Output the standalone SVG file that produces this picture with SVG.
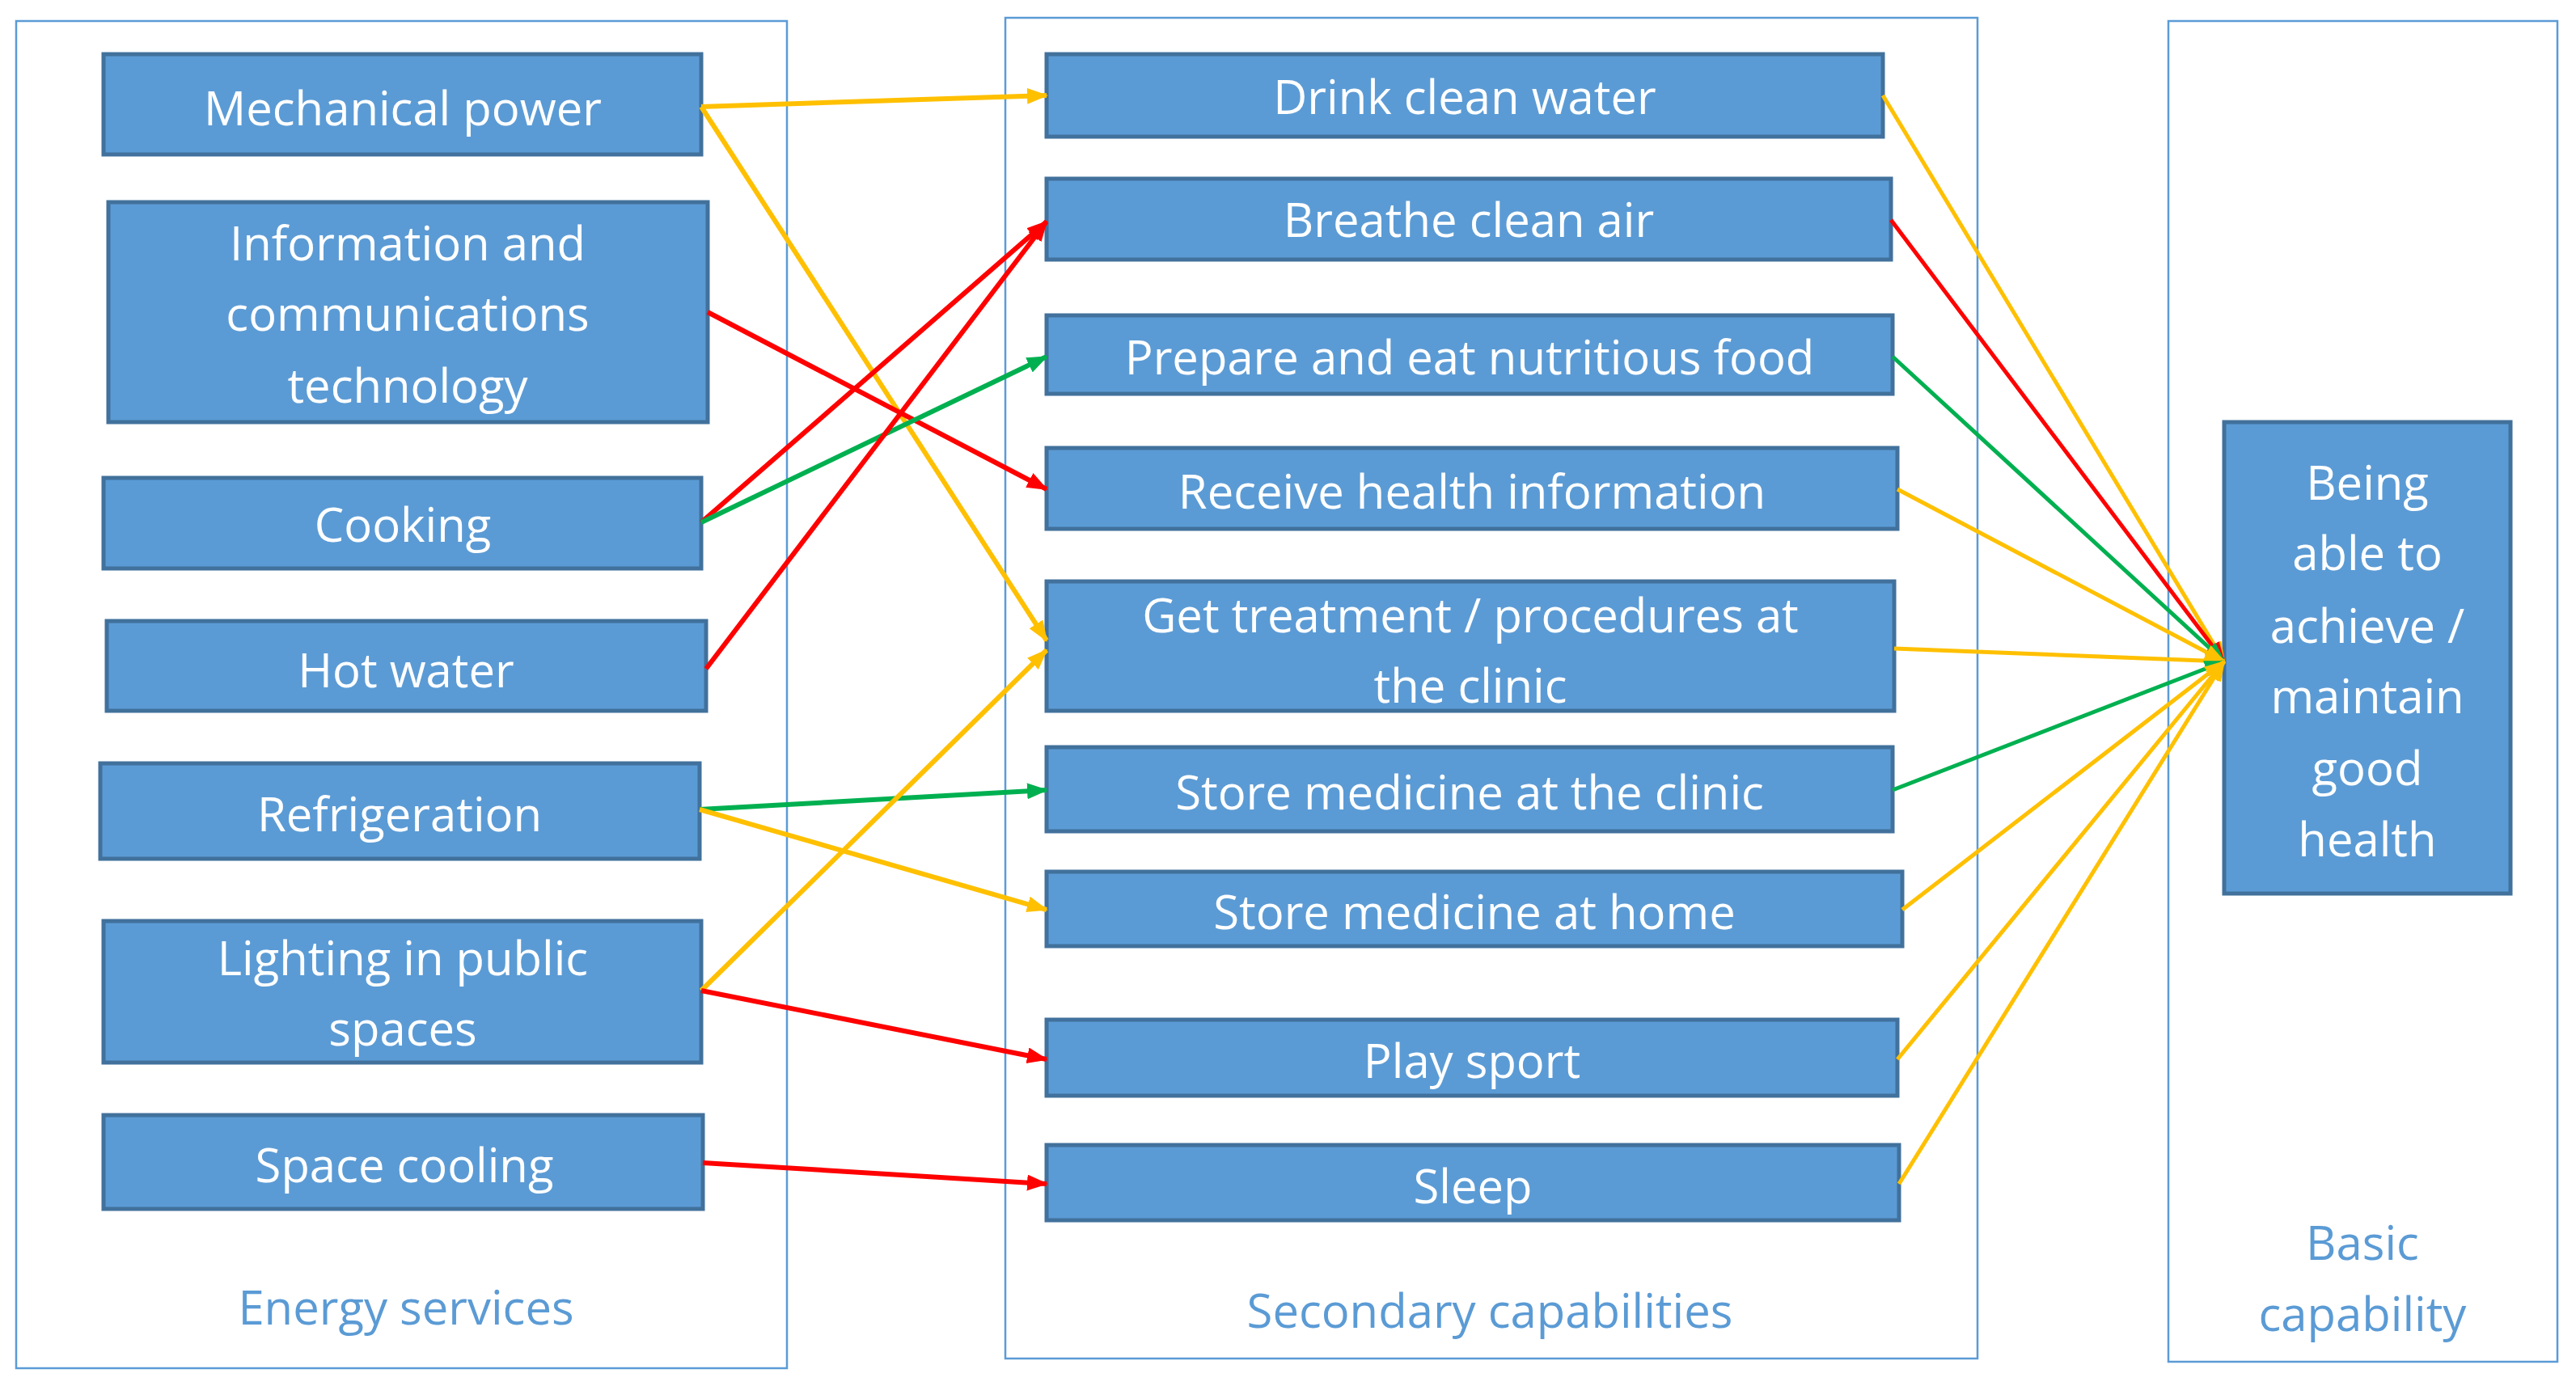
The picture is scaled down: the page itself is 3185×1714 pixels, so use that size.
<svg xmlns="http://www.w3.org/2000/svg" width="3185" height="1714" viewBox="0 0 3185 1714">
<style>
.c{fill:#fff;stroke:#5B9BD5;stroke-width:2.5}
.b{fill:#5B9BD5;stroke:#41719C;stroke-width:5}
.t{fill:#fff;font-family:"Open Sans","Liberation Sans",sans-serif;font-size:58px;text-anchor:middle;dominant-baseline:central}
.l{fill:#5B9BD5;font-family:"Open Sans","Liberation Sans",sans-serif;font-size:58px;text-anchor:middle;dominant-baseline:central}
.y{stroke:#FFC000;fill:none;stroke-width:6}
.r{stroke:#FF0000;fill:none;stroke-width:6}
.g{stroke:#00B050;fill:none;stroke-width:6}
.y2{stroke:#FFC000;fill:none;stroke-width:5}
.r2{stroke:#FF0000;fill:none;stroke-width:5}
.g2{stroke:#00B050;fill:none;stroke-width:5}
</style>
<defs>
<marker id="my" markerUnits="userSpaceOnUse" markerWidth="26" markerHeight="20" refX="24" refY="10" orient="auto"><path d="M0,0 L26,10 L0,20 Z" fill="#FFC000"/></marker>
<marker id="mr" markerUnits="userSpaceOnUse" markerWidth="26" markerHeight="20" refX="24" refY="10" orient="auto"><path d="M0,0 L26,10 L0,20 Z" fill="#FF0000"/></marker>
<marker id="mg" markerUnits="userSpaceOnUse" markerWidth="26" markerHeight="20" refX="24" refY="10" orient="auto"><path d="M0,0 L26,10 L0,20 Z" fill="#00B050"/></marker>
</defs>
<rect width="3185" height="1714" fill="#fff"/>
<g id="containers">
<rect class="c" x="20" y="26" width="953" height="1666"/>
<rect class="c" x="1243" y="22" width="1202" height="1658"/>
<rect class="c" x="2681" y="26" width="481" height="1658"/>
<text class="l" x="502" y="1615">Energy services</text>
<text class="l" x="1842" y="1619">Secondary capabilities</text>
<text class="l" x="2921" y="1535">Basic</text>
<text class="l" x="2921" y="1623">capability</text>
</g>
<g id="n-mech"><rect class="b" x="128" y="67" width="739" height="124"/><text class="t" x="498" y="132">Mechanical power</text></g>
<g id="n-ict"><rect class="b" x="134" y="250" width="741" height="272"/><text class="t" x="504" y="299">Information and</text><text class="t" x="504" y="386">communications</text><text class="t" x="504" y="475">technology</text></g>
<g id="n-cook"><rect class="b" x="128" y="591" width="739" height="112"/><text class="t" x="498" y="647">Cooking</text></g>
<g id="n-hot"><rect class="b" x="132" y="768" width="741" height="111"/><text class="t" x="502" y="827">Hot water</text></g>
<g id="n-fridge"><rect class="b" x="124" y="944" width="741" height="118"/><text class="t" x="494" y="1005">Refrigeration</text></g>
<g id="n-light"><rect class="b" x="128" y="1139" width="739" height="175"/><text class="t" x="498" y="1183">Lighting in public</text><text class="t" x="498" y="1270">spaces</text></g>
<g id="n-cool"><rect class="b" x="128" y="1379" width="741" height="116"/><text class="t" x="500" y="1439">Space cooling</text></g>
<g id="n-drink"><rect class="b" x="1294" y="67" width="1034" height="102"/><text class="t" x="1811" y="118">Drink clean water</text></g>
<g id="n-air"><rect class="b" x="1294" y="221" width="1044" height="100"/><text class="t" x="1816" y="270">Breathe clean air</text></g>
<g id="n-food"><rect class="b" x="1294" y="390" width="1046" height="97"/><text class="t" x="1817" y="440">Prepare and eat nutritious food</text></g>
<g id="n-info"><rect class="b" x="1294" y="554" width="1052" height="100"/><text class="t" x="1820" y="606">Receive health information</text></g>
<g id="n-treat"><rect class="b" x="1294" y="719" width="1048" height="160"/><text class="t" x="1818" y="759">Get treatment / procedures at</text><text class="t" x="1818" y="846">the clinic</text></g>
<g id="n-clinic"><rect class="b" x="1294" y="924" width="1046" height="104"/><text class="t" x="1817" y="978">Store medicine at the clinic</text></g>
<g id="n-home"><rect class="b" x="1294" y="1078" width="1058" height="92"/><text class="t" x="1823" y="1126">Store medicine at home</text></g>
<g id="n-sport"><rect class="b" x="1294" y="1261" width="1052" height="94"/><text class="t" x="1820" y="1310">Play sport</text></g>
<g id="n-sleep"><rect class="b" x="1294" y="1416" width="1054" height="93"/><text class="t" x="1821" y="1465">Sleep</text></g>
<g id="n-health"><rect class="b" x="2750" y="522" width="354" height="583"/>
<text class="t" x="2927" y="595">Being</text><text class="t" x="2927" y="682">able to</text><text class="t" x="2927" y="772">achieve /</text><text class="t" x="2927" y="859">maintain</text><text class="t" x="2927" y="948">good</text><text class="t" x="2927" y="1036">health</text></g>
<g id="connectors">
<line class="y" x1="867" y1="132" x2="1294" y2="118" marker-end="url(#my)"/>
<line class="y" x1="867" y1="132" x2="1294" y2="792" marker-end="url(#my)"/>
<line class="r" x1="875" y1="386" x2="1294" y2="605" marker-end="url(#mr)"/>
<line class="r" x1="867" y1="646" x2="1294" y2="274" marker-end="url(#mr)"/>
<line class="g" x1="867" y1="646" x2="1294" y2="441" marker-end="url(#mg)"/>
<line class="r" x1="873" y1="827" x2="1294" y2="274" marker-end="url(#mr)"/>
<line class="g" x1="865" y1="1001" x2="1294" y2="977" marker-end="url(#mg)"/>
<line class="y" x1="865" y1="1001" x2="1294" y2="1125" marker-end="url(#my)"/>
<line class="y" x1="867" y1="1225" x2="1294" y2="804" marker-end="url(#my)"/>
<line class="r" x1="867" y1="1225" x2="1294" y2="1310" marker-end="url(#mr)"/>
<line class="r" x1="869" y1="1438" x2="1294" y2="1464" marker-end="url(#mr)"/>
<line class="y2" x1="2328" y1="118" x2="2750" y2="818" marker-end="url(#my)"/>
<line class="r2" x1="2338" y1="272" x2="2750" y2="818" marker-end="url(#mr)"/>
<line class="g2" x1="2340" y1="441" x2="2750" y2="818" marker-end="url(#mg)"/>
<line class="y2" x1="2346" y1="605" x2="2750" y2="818" marker-end="url(#my)"/>
<line class="y2" x1="2342" y1="802" x2="2750" y2="818" marker-end="url(#my)"/>
<line class="g2" x1="2340" y1="977" x2="2750" y2="818" marker-end="url(#mg)"/>
<line class="y2" x1="2352" y1="1125" x2="2750" y2="818" marker-end="url(#my)"/>
<line class="y2" x1="2346" y1="1310" x2="2750" y2="818" marker-end="url(#my)"/>
<line class="y2" x1="2348" y1="1464" x2="2750" y2="818" marker-end="url(#my)"/>
</g>
</svg>
